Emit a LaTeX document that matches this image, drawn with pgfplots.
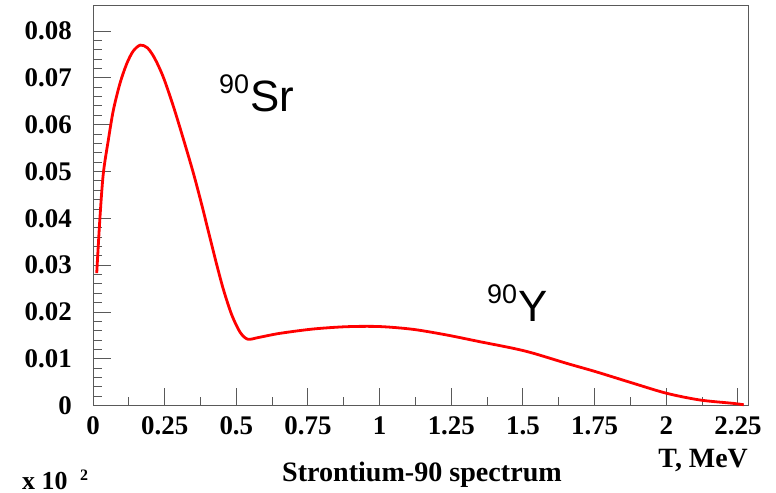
\documentclass[border=0pt]{standalone}
\usepackage{fontspec}
\setmainfont{Liberation Serif}
\newfontfamily\arial{Liberation Sans}
\usepackage{pgfplots}
\pgfplotsset{compat=1.18}
\begin{document}
\begin{tikzpicture}
\useasboundingbox (0,0) rectangle (776bp,493bp);
\begin{axis}[
  scale only axis, width=655bp, height=400.4bp,
  at={(93bp,87.3bp)}, anchor=south west,
  xmin=0, xmax=2.285, ymin=0, ymax=0.0855,
  xtick={0,0.25,0.5,0.75,1,1.25,1.5,1.75,2,2.25},
  xticklabels={0,0.25,0.5,0.75,1,1.25,1.5,1.75,2,2.25},
  ytick={0,0.01,0.02,0.03,0.04,0.05,0.06,0.07,0.08},
  yticklabels={0,0.01,0.02,0.03,0.04,0.05,0.06,0.07,0.08},
  minor x tick num=1, minor y tick num=4,
  tick pos=left, tick align=inside,
  major tick length=17.5bp, minor tick length=8.5bp,
  axis line style={black!65, line width=1bp},
  every tick/.style={black!65, line width=1bp},
  ticklabel style={font=\bfseries\fontsize{27}{27}\selectfont, text=black},
  xticklabel style={anchor=north, inner sep=0pt, yshift=-11bp},
  yticklabel style={anchor=east, inner sep=0pt, xshift=-21bp},
  clip=false,
]
\addplot[red, line width=2.8bp, smooth, tension=0.5] coordinates {
(0.013,0.0283) (0.0244,0.0403) (0.036,0.0496) (0.0534,0.0567) (0.071,0.0631)
(0.094,0.0688) (0.1175,0.0730) (0.140,0.0757) (0.165,0.0770) (0.190,0.0764)
(0.215,0.0742) (0.245,0.0702) (0.280,0.0640) (0.315,0.0570) (0.350,0.0497)
(0.379,0.0430) (0.405,0.0366) (0.430,0.0305) (0.455,0.0248) (0.484,0.0194)
(0.513,0.0157) (0.540,0.0142) (0.580,0.0146) (0.652,0.01545) (0.767,0.01637)
(0.885,0.01687) (1.0,0.0169) (1.117,0.0163) (1.234,0.0151) (1.35,0.01366)
(1.466,0.01225) (1.536,0.0112) (1.652,0.00905) (1.754,0.00726) (1.885,0.00478)
(2.001,0.00265) (2.117,0.00122) (2.233,0.0005) (2.27,0.0002)
};
\end{axis}
\node[anchor=base, inner sep=0pt, font=\bfseries\fontsize{28.2}{28.2}\selectfont] at (422bp,11.3bp) {Strontium-90 spectrum};
\node[anchor=base east, inner sep=0pt, font=\bfseries\fontsize{28}{28}\selectfont] at (748bp,25.7bp) {T, MeV};
\node[anchor=base west, inner sep=0pt, font=\bfseries\fontsize{26}{26}\selectfont] at (22bp,4bp) {x 10};
\node[anchor=base west, inner sep=0pt, font=\bfseries\fontsize{16}{16}\selectfont] at (80bp,13bp) {2};
\node[anchor=base west, inner sep=0pt, font=\arial\fontsize{27}{27}\selectfont] at (219bp,399.7bp) {90};
\node[anchor=base west, inner sep=0pt, font=\arial\fontsize{44}{44}\selectfont] at (250bp,381.3bp) {Sr};
\node[anchor=base west, inner sep=0pt, font=\arial\fontsize{27}{27}\selectfont] at (487bp,189.7bp) {90};
\node[anchor=base west, inner sep=0pt, font=\arial\fontsize{44}{44}\selectfont] at (518bp,171.3bp) {Y};
\end{tikzpicture}
\end{document}
